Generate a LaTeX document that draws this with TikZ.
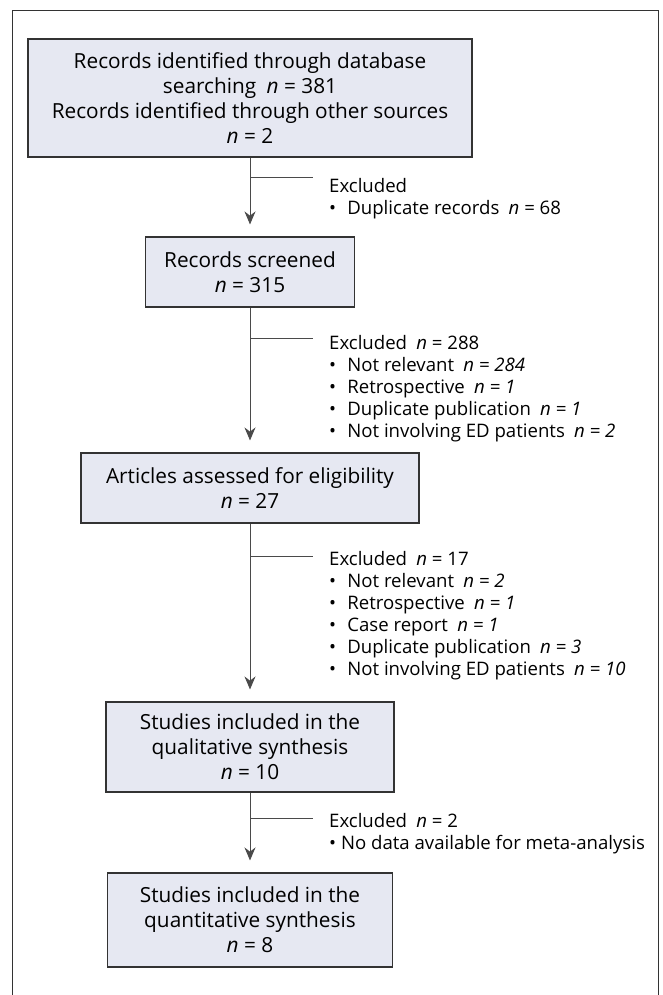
\documentclass[tikz,border=0pt]{standalone}
\usepackage{fontspec}
\setmainfont{Open Sans}
\usetikzlibrary{arrows.meta}
\definecolor{boxfill}{HTML}{E6E8F2}
\definecolor{boxline}{HTML}{333333}
\definecolor{linegray}{HTML}{4A4A4A}
\newcommand{\nn}{\textit{n}}
\newcommand{\itm}{\textbullet\hspace{0.6em}}

\begin{document}
\begin{tikzpicture}[x=1pt,y=-1pt,
  box/.style={draw=boxline, fill=boxfill, line width=1.1pt, inner sep=0pt,
    align=center, font=\fontsize{20.8}{25}\selectfont},
  excl/.style={anchor=north west, inner sep=0pt, align=left,
    font=\fontsize{18.6}{22}\selectfont},
  link/.style={draw=linegray, line width=1pt},
  arr/.style={link, -{Stealth[length=13pt,width=11pt]}, shorten >=12pt}]
\useasboundingbox (0,0) rectangle (663,995);
% outer frame, open at the bottom
\draw[boxline, line width=1pt] (12.7,995) -- (12.7,10.7) -- (658,10.7) -- (658,995);
%
\node[box, minimum width=444pt, minimum height=118pt] (rec) at (250,98)
  {Records identified through database\\ searching\enspace\nn{} = 381\\
   Records identified through other sources\\ \nn{} = 2};
\node[box, minimum width=209pt, minimum height=70pt] (scr) at (250,272)
  {Records screened\\ \nn{} = 315};
\node[box, minimum width=338pt, minimum height=70pt] (art) at (250,488)
  {Articles assessed for eligibility\\ \nn{} = 27};
\node[box, minimum width=288pt, minimum height=90pt] (qual) at (250,747)
  {Studies included in the\\ qualitative synthesis\\ \nn{} = 10};
\node[box, minimum width=285pt, minimum height=94pt] (quant) at (250,920)
  {Studies included in the\\ quantitative synthesis\\ \nn{} = 8};
%
\draw[arr] (rec) -- (scr);
\draw[arr] (scr) -- (art);
\draw[arr] (art) -- (qual);
\draw[arr] (qual) -- (quant);
%
\coordinate (ex1) at (313,178);
\coordinate (ex2) at (313,338);
\coordinate (ex3) at (313,556);
\coordinate (ex4) at (313,818);
\draw[link] (ex1 -| rec.south) -- (ex1);
\draw[link] (ex2 -| rec.south) -- (ex2);
\draw[link] (ex3 -| rec.south) -- (ex3);
\draw[link] (ex4 -| rec.south) -- (ex4);
%
\node[excl] (dup) at (329,178)
  {Excluded\\ \itm Duplicate records\enspace\nn{} = 68};
\node[excl] (scrx) at (329,335)
  {Excluded\enspace\nn{} = 288\\
   \itm Not relevant\enspace\textit{n = 284}\\
   \itm Retrospective\enspace\textit{n = 1}\\
   \itm Duplicate publication\enspace\textit{n = 1}\\
   \itm Not involving ED patients\enspace\textit{n = 2}};
\node[excl] (artx) at (329,551)
  {Excluded\enspace\nn{} = 17\\
   \itm Not relevant\enspace\textit{n = 2}\\
   \itm Retrospective\enspace\textit{n = 1}\\
   \itm Case report\enspace\textit{n = 1}\\
   \itm Duplicate publication\enspace\textit{n = 3}\\
   \itm Not involving ED patients\enspace\textit{n = 10}};
\node[excl] (qualx) at (329,813)
  {Excluded\enspace\nn{} = 2\\ \textbullet{} No data available for meta-analysis};
\end{tikzpicture}
\end{document}
